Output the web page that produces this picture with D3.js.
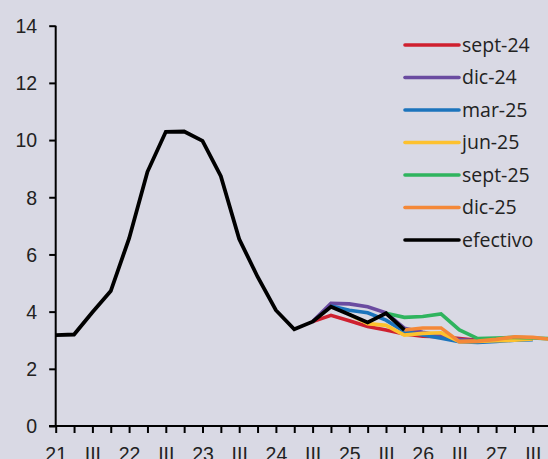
<!DOCTYPE html>
<html><head><meta charset="utf-8">
<script src="https://cdn.jsdelivr.net/npm/d3@7"></script>
<style>
html,body{margin:0;padding:0;background:#d9d9e4;}
svg{display:block;font-family:"Open Sans",sans-serif;}
</style></head>
<body>
<svg id="c" width="548" height="459"></svg>
<script>
const quarters = [];
["21","22","23","24","25","26","27"].forEach(y => ["I","II","III","IV"].forEach(q => quarters.push(y + "-" + q)));
const tickLabels = ["21","","III","","22","","III","","23","","III","","24","","III","","25","","III","","26","","III","","27","","III",""];
const yTicks = [0,2,4,6,8,10,12,14];

const efectivo = [3.18,3.2,3.98,4.72,6.56,8.89,10.29,10.3,9.97,8.74,6.54,5.22,4.05,3.38,3.65,4.17,3.9,3.62,3.94,3.36];
const sept24 = [null,null,null,null,null,null,null,null,null,null,null,null,null,null,3.65,3.87,3.68,3.48,3.36,3.22,3.14,3.12,3.06,3.0];
const dic24  = [null,null,null,null,null,null,null,null,null,null,null,null,null,null,3.65,4.29,4.27,4.17,3.96,3.42,3.28,3.16,3.02,2.98];
const mar25  = [null,null,null,null,null,null,null,null,null,null,null,null,null,null,null,4.2,4.05,3.96,3.7,3.3,3.18,3.07,2.95,2.92,2.96,3.0,3.02];
const jun25  = [null,null,null,null,null,null,null,null,null,null,null,null,null,null,null,null,3.9,3.58,3.52,3.18,3.24,3.26,2.95,2.96,2.98,3.0,3.04];
const sept25 = [null,null,null,null,null,null,null,null,null,null,null,null,null,null,null,null,null,null,3.94,3.8,3.83,3.92,3.36,3.06,3.08,3.1,3.08,3.05];
const dic25  = [null,null,null,null,null,null,null,null,null,null,null,null,null,null,null,null,null,null,null,3.36,3.43,3.43,2.95,2.97,3.03,3.12,3.1,3.03];

const series = [
  {name:"sept-24", values:sept24, color:"#cf202f", w:3.6},
  {name:"dic-24", values:dic24, color:"#6a4ba0", w:3.6},
  {name:"mar-25", values:mar25, color:"#1c74bc", w:3.6},
  {name:"jun-25", values:jun25, color:"#fdc12e", w:3.6},
  {name:"sept-25", values:sept25, color:"#2fb45e", w:3.6},
  {name:"dic-25", values:dic25, color:"#f48838", w:3.6},
  {name:"efectivo", values:efectivo, color:"#000000", w:3.8}
];

const svg = d3.select("#c");
const x = d3.scalePoint().domain(quarters).range([55.7, 55.7 + 27*18.35]);
const y = d3.scaleLinear().domain([0,14]).range([426, 25.7]);

// y axis
const yAxis = svg.append("g").attr("transform","translate(55.7,0)")
  .call(d3.axisLeft(y).tickValues(yTicks).tickSize(6.5).tickPadding(12).tickFormat(d3.format("d")));
yAxis.select(".domain").attr("stroke","#000").attr("stroke-width",2).attr("d","M0,"+y(14)+"V"+y(0));
yAxis.selectAll(".tick line").attr("stroke","#000").attr("stroke-width",2);
yAxis.selectAll(".tick text").attr("font-size",19.5).attr("fill","#222").attr("dy","0.35em");

// x axis
const xAxis = svg.append("g").attr("transform","translate(0,426)")
  .call(d3.axisBottom(x).tickSize(7).tickPadding(14).tickFormat((d,i)=>tickLabels[i]));
xAxis.select(".domain").attr("stroke","#000").attr("stroke-width",2).attr("d","M49,0H548");
xAxis.selectAll(".tick line").attr("stroke","#000").attr("stroke-width",2);
xAxis.selectAll(".tick text").attr("font-size",19.5).attr("fill","#222");

const lineFn = vals => d3.line().defined(d => d[1] != null).x(d=>x(d[0])).y(d=>y(d[1]))(vals.map((v,i)=>[quarters[i],v]));

series.forEach(s => {
  svg.append("path").attr("d", lineFn(s.values)).attr("fill","none")
    .attr("stroke", s.color).attr("stroke-width", s.w).attr("stroke-linejoin","miter").attr("stroke-linecap","butt");
});

// legend
const lg = svg.append("g");
series.forEach((s,i) => {
  const yy = 45 + i*32.5;
  lg.append("line").attr("x1",405).attr("x2",459).attr("y1",yy).attr("y2",yy)
    .attr("stroke",s.color).attr("stroke-width",3.6).attr("stroke-linecap","round");
  lg.append("text").attr("x",462).attr("y",yy).attr("dy","0.35em").attr("font-size",19.5).attr("fill","#222").text(s.name);
});
</script>
</body></html>
